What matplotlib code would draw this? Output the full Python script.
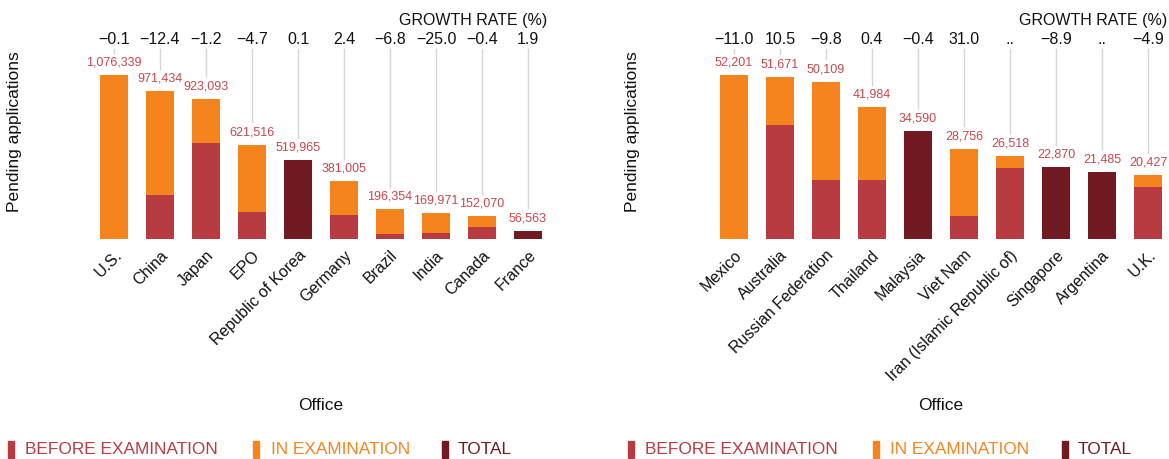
import matplotlib
matplotlib.use('Agg')
import matplotlib.pyplot as plt
from matplotlib.patches import Rectangle

plt.rcParams['font.family'] = ['Liberation Sans', 'DejaVu Sans']

# Data
left_offices = ['U.S.', 'China', 'Japan', 'EPO', 'Republic of Korea', 'Germany',
                'Brazil', 'India', 'Canada', 'France']
left_total = [1076339, 971434, 923093, 621516, 519965, 381005, 196354, 169971, 152070, 56563]
left_before = [0, 292700, 634000, 181000, None, 159500, 36800, 43300, 82700, None]
left_growth = ['\u22120.1', '\u221212.4', '\u22121.2', '\u22124.7', '0.1', '2.4',
               '\u22126.8', '\u221225.0', '\u22120.4', '1.9']

right_offices = ['Mexico', 'Australia', 'Russian Federation', 'Thailand', 'Malaysia',
                 'Viet Nam', 'Iran (Islamic Republic of)', 'Singapore', 'Argentina', 'U.K.']
right_total = [52201, 51671, 50109, 41984, 34590, 28756, 26518, 22870, 21485, 20427]
right_before = [0, 36350, 19030, 18800, None, 7560, 22640, None, None, 16580]
right_growth = ['\u221211.0', '10.5', '\u22129.8', '0.4', '\u22120.4', '31.0', '..',
                '\u22128.9', '..', '\u22124.9']

legend_labels = ['BEFORE EXAMINATION', 'IN EXAMINATION', 'TOTAL']

C_BEFORE = '#b83b41'
C_IN = '#f5841f'
C_TOTAL = '#721a21'
C_VALUE = '#c8474d'
C_LINE = '#d6d6d6'

W, H = 1169, 459
fig = plt.figure(figsize=(W / 100, H / 100), dpi=100)

AX_H = 164.0  # axes height in pixels
BASE = 239.3  # baseline y (pixels from top)


def draw(left_px, offices, total, before, growth):
    ax = fig.add_axes([left_px / W, (H - BASE) / H, 460 / W, AX_H / H])
    ymax = max(total)
    px = ymax / AX_H
    x = list(range(len(offices)))
    for i in x:
        if before[i] is None:
            ax.bar(i, total[i], width=0.6, color=C_TOTAL)
        else:
            ax.bar(i, before[i], width=0.6, color=C_BEFORE)
            ax.bar(i, total[i] - before[i], bottom=before[i], width=0.6, color=C_IN)
        lab_y = total[i] + 12.5 * px
        ax.text(i, lab_y, format(total[i], ','), ha='center', va='center',
                fontsize=9, color=C_VALUE, clip_on=False)
        ax.plot([i, i], [(BASE - 49) * px, lab_y + 10 * px], color=C_LINE,
                lw=1, clip_on=False, zorder=0)
        ax.text(i, (BASE - 40) * px, growth[i], ha='center', va='center',
                fontsize=11.5, color='#111111', clip_on=False)
    ax.text(9.5 - 4 / 46, (BASE - 20) * px, 'GROWTH RATE (%)', ha='right', va='center',
            fontsize=11.5, color='#111111', clip_on=False)
    ax.set_xlim(-0.5, 9.5)
    ax.set_ylim(0, ymax)
    ax.set_xticks(x)
    ax.set_xticklabels(offices, rotation=45, ha='right', rotation_mode='anchor',
                       fontsize=11.5, color='#111111')
    ax.tick_params(axis='x', length=0, pad=6)
    ax.set_yticks([])
    for s in ax.spines.values():
        s.set_visible(False)
    return ax


draw(91, left_offices, left_total, left_before, left_growth)
draw(711, right_offices, right_total, right_before, right_growth)

# axis titles
fig.text(15 / W, 1 - 132 / H, 'Pending applications', rotation=90, ha='center',
         va='center', fontsize=12.5, color='#111111')
fig.text(633 / W, 1 - 132 / H, 'Pending applications', rotation=90, ha='center',
         va='center', fontsize=12.5, color='#111111')
fig.text(321 / W, 1 - 405 / H, 'Office', ha='center', va='center', fontsize=12.5,
         color='#111111')
fig.text(941 / W, 1 - 405 / H, 'Office', ha='center', va='center', fontsize=12.5,
         color='#111111')

# legends
colors = [C_BEFORE, C_IN, C_TOTAL]
for marks, texts in [([8, 253, 442], [25, 271, 458]), ([628, 873, 1062], [645, 890, 1078])]:
    for m, t, lab, c in zip(marks, texts, legend_labels, colors):
        fig.add_artist(Rectangle((m / W, 1 - 458 / H), 6 / W, 17 / H,
                                 transform=fig.transFigure, color=c))
        fig.text(t / W, 1 - 450 / H, lab, ha='left', va='center', fontsize=12.4, color=c)

plt.savefig('out.png', dpi=100)
